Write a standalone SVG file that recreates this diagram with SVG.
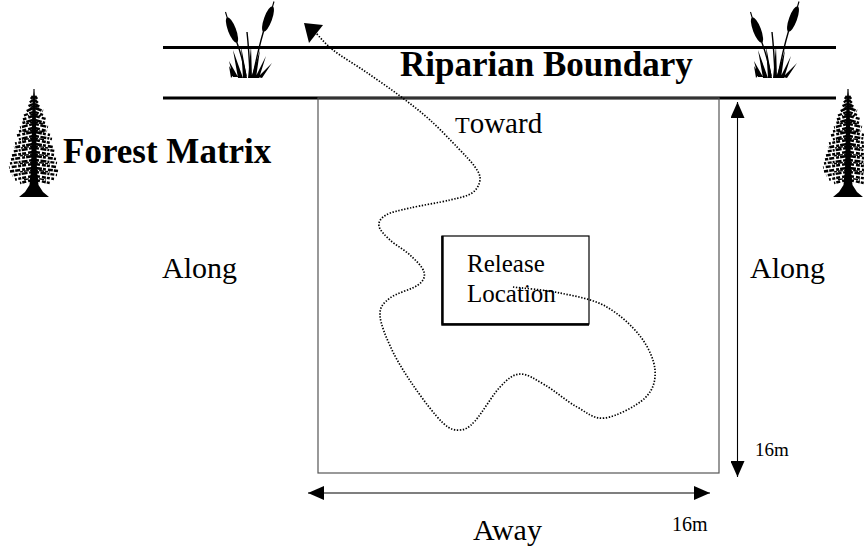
<svg xmlns="http://www.w3.org/2000/svg" width="864" height="548" viewBox="0 0 864 548">
  <style>
    .serif { font-family: "Liberation Serif", "Times New Roman", serif; fill: #000; }
    .bold { font-weight: bold; }
    .boundary { stroke: #000; stroke-width: 3; fill: none; }
    .plot { stroke: #555; stroke-width: 1.2; fill: none; }
    .dim { stroke: #000; stroke-width: 1.1; fill: none; }
    .track { stroke: #000; stroke-width: 1.7; fill: none; stroke-dasharray: 1.4 1.6; }
    .ink { fill: #000; }
    .bough { fill: none; stroke: #000; }
  </style>
  <defs>
    <!-- conifer drawn with its top at the origin -->
    <g id="conifer">
      <path class="ink" d="M0 1 L1.5 10 L3 80 L4.5 95 L9 102 L15 107 L-15 107 L-9 102 L-4.5 95 L-3 80 L-1.5 10 Z"/>
      <path d="M0 -1 V7" stroke="#000" stroke-width="1.2"/>
      <path class="bough" stroke-width="2.6" stroke-dasharray="7 1 3 2 5 1"
        d="M-1 6L-3 9M1 6L3 9
           M-1 18L-8 21.5M1 18L9 21
           M-1 30L-13 33.5M1 30L11 33
           M-1 42L-17 45.5M1 42L16 45
           M-1 54L-20 57.5M1 54L19 57
           M-1 66L-23 69.5M1 66L22 69
           M-1 78L-24 81.5M1 78L24 81"/>
      <path class="bough" stroke-width="2.4" stroke-dasharray="4 1.5 6 1 2 1"
        d="M-1 10L-5 13M1 10L4 13
           M-1 22L-10 25.5M1 22L9 25
           M-1 34L-14 37.5M1 34L14 37
           M-1 46L-16 49.5M1 46L18 49
           M-1 58L-21 61.5M1 58L21 61
           M-1 70L-24 73.5M1 70L23 73
           M-1 82L-22 85.5M1 82L23 85"/>
      <path class="bough" stroke-width="2.5" stroke-dasharray="5 2 4 1 3 1.5"
        d="M-1 14L-7 17M1 14L6 17
           M-1 26L-11 29.5M1 26L12 29
           M-1 38L-15 41.5M1 38L13 41
           M-1 50L-19 53.5M1 50L17 53
           M-1 62L-22 65.5M1 62L20 65
           M-1 74L-25 77.5M1 74L22 77
           M-1 86L-19 89.5M1 86L20 89
           M-1 90L-14 93M1 90L16 93"/>
      <path class="bough" stroke-width="1.4" stroke-dasharray="3 1.2 5 1"
        d="M-1 16L-4 18M1 16L5 18
           M-1 24L-6 26M1 24L7 26
           M-1 32L-8 34M1 32L9 34
           M-1 40L-10 42M1 40L10 42
           M-1 48L-12 50M1 48L11 50
           M-1 56L-13 58M1 56L14 58
           M-1 64L-15 66M1 64L14 66
           M-1 72L-16 74M1 72L16 74
           M-1 80L-15 82M1 80L16 82
           M-1 88L-11 90M1 88L12 90"/>
    </g>
    <!-- cattail clump -->
    <g id="cattail">
      <ellipse class="ink" cx="232" cy="30" rx="4" ry="13.5" transform="rotate(-21 232 30)"/>
      <ellipse class="ink" cx="268" cy="19" rx="4" ry="13.5" transform="rotate(20 268 19)"/>
      <path fill="none" stroke="#000" stroke-width="1.1" d="M227.3 18 L225.5 12 M272.4 7 L274 1.5"/>
      <path fill="none" stroke="#000" stroke-width="1.4" d="M236.7 42 Q242 56 246 76 M263.6 31 Q258 50 253 76 M247 32 Q249 50 250 76"/>
      <path class="ink" d="M231 78 L229 66 L234 74 Z
        M233 77 L229 61 L238 77 Z
        M238 78 L233 50 L243 78 Z
        M243 78 L241 46 L247 78 Z
        M248 78 L251 46 L252 78 Z
        M251 78 L260 50 L256 78 Z
        M255 78 L266 56 L259 78 Z
        M258 77 L272 63 L262 78 Z"/>
    </g>
    <marker id="head" viewBox="0 0 16 14" refX="16" refY="7" markerWidth="16" markerHeight="14" markerUnits="userSpaceOnUse" orient="auto-start-reverse">
      <path d="M0 0 L16 7 L0 14 Z" fill="#000"/>
    </marker>
  </defs>

  <rect width="864" height="548" fill="#fff"/>

  <!-- riparian strip with cattails -->
  <g id="riparian-boundary">
    <use href="#cattail"/>
    <use href="#cattail" transform="translate(525 0)"/>
    <line class="boundary" x1="163" y1="47.5" x2="836" y2="47.5"/>
    <line class="boundary" x1="163" y1="98" x2="836" y2="98"/>
    <text class="serif bold" x="400" y="76" font-size="35">Riparian Boundary</text>
  </g>

  <!-- forest on both sides -->
  <g id="forest-matrix">
    <use href="#conifer" transform="translate(34 90)"/>
    <use href="#conifer" transform="translate(848 90)"/>
    <text class="serif bold" x="63" y="163" font-size="35">Forest Matrix</text>
  </g>

  <!-- 16 m study plot -->
  <g id="plot">
    <rect class="plot" x="318" y="98" width="401" height="375"/>
  </g>

  <g id="release-location">
    <rect x="442" y="236" width="147" height="88" fill="#fff" stroke="#000" stroke-width="1.2"/>
    <path d="M442.5 236 V324.5 H589" fill="none" stroke="#000" stroke-width="2.4"/>
    <text class="serif" x="467" y="272" font-size="25">Release</text>
    <text class="serif" x="467" y="302" font-size="25">Location</text>
  </g>

  <!-- direction labels -->
  <g id="labels">
    <text class="serif" x="455" y="133" font-size="29"><tspan font-size="24">T</tspan>oward</text>
    <text class="serif" x="162" y="278" font-size="30">Along</text>
    <text class="serif" x="750" y="278" font-size="30">Along</text>
    <text class="serif" x="473" y="540" font-size="30">Away</text>
    <text class="serif" x="755" y="456" font-size="19">16m</text>
    <text class="serif" x="672" y="531" font-size="20">16m</text>
  </g>

  <!-- dimension arrows and movement track -->
  <g id="connectors">
    <line class="dim" x1="737.5" y1="102" x2="737.5" y2="477" marker-start="url(#head)" marker-end="url(#head)"/>
    <line class="dim" x1="308" y1="493" x2="710" y2="493" marker-start="url(#head)" marker-end="url(#head)"/>
    <path class="track" d="M513 287
      C520.8 288 544.7 289.8 560 293
      C575.3 296.2 591.7 298.8 605 306
      C618.3 313.2 631.7 325.3 640 336
      C648.3 346.7 654.2 359.7 655 370
      C655.8 380.3 653.3 390 645 398
      C636.7 406 616.3 416.5 605 418
      C593.7 419.5 587 412.5 577 407
      C567 401.5 554.5 390.5 545 385
      C535.5 379.5 527.5 373.7 520 374
      C512.5 374.3 507.5 379.2 500 387
      C492.5 394.8 481.7 413.8 475 421
      C468.3 428.2 465.3 429.7 460 430
      C454.7 430.3 450.5 430 443 423
      C435.5 416 423.5 400.2 415 388
      C406.5 375.8 397.8 362.2 392 350
      C386.2 337.8 380.3 323.7 380 315
      C379.7 306.3 383.7 303 390 298
      C396.3 293 412.3 289.3 418 285
      C423.7 280.7 425.3 277 424 272
      C422.7 267 415.7 260.3 410 255
      C404.3 249.7 395.2 244.8 390 240
      C384.8 235.2 379.7 230.2 379 226
      C378.3 221.8 380.8 218 386 215
      C391.2 212 399.3 210.5 410 208
      C420.7 205.5 439.7 202.5 450 200
      C460.3 197.5 467 196.3 472 193
      C477 189.7 479.5 184.3 480 180
      C480.5 175.7 478.7 172.3 475 167
      C471.3 161.7 465.5 155.8 458 148
      C450.5 140.2 439.7 128.7 430 120
      C420.3 111.3 410.7 104 400 96
      C389.3 88 377.2 79.7 366 72
      C354.8 64.3 341.3 56.5 333 50
      C324.7 43.5 318.8 35.8 316 33"/>
    <polygon class="ink" points="304,23 323,25 309,43"/>
  </g>
</svg>
